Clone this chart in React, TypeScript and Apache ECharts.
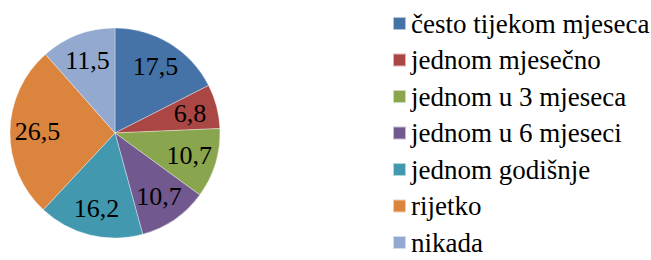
import React, { useEffect, useRef } from "react";
import * as echarts from "echarts";

const categories = [
  "često tijekom mjeseca",
  "jednom mjesečno",
  "jednom u 3 mjeseca",
  "jednom u 6 mjeseci",
  "jednom godišnje",
  "rijetko",
  "nikada",
];
const values = [17.5, 6.8, 10.7, 10.7, 16.2, 26.5, 11.5];
const colors = ["#4572A7", "#AA4643", "#89A54E", "#71588F", "#4198AF", "#DB843D", "#93A9CF"];

const FONT = "'Liberation Serif', 'Times New Roman', serif";

export default function App() {
  const ref = useRef<HTMLDivElement>(null);
  useEffect(() => {
    if (!ref.current) return;
    const chart = echarts.init(ref.current, undefined, { renderer: "svg" });
    const data = categories.map((name, i) => ({
      name,
      value: values[i],
      itemStyle: { color: colors[i] },
    }));
    chart.setOption({
      animation: false,
      textStyle: { fontFamily: FONT },
      legend: {
        orient: "vertical",
        left: 392,
        top: 10,
        height: 250,
        padding: 0,
        itemWidth: 13,
        itemHeight: 13,
        itemGap: 9.5,
        icon: "rect",
        data: categories,
        textStyle: {
          fontFamily: FONT,
          fontSize: 27,
          lineHeight: 27,
          color: "#000",
        },
      },
      series: [
        {
          type: "pie",
          center: [115, 133],
          radius: [0, 105],
          startAngle: 90,
          clockwise: true,
          silent: true,
          data,
          label: { show: false },
          labelLine: { show: false },
          itemStyle: { borderColor: "rgba(255,255,255,0.6)", borderWidth: 0.6 },
        },
        {
          type: "pie",
          center: [115, 133],
          radius: [44, 105],
          startAngle: 90,
          clockwise: true,
          silent: true,
          legendHoverLink: false,
          data: categories.map((name, i) => ({
            name: name + " ",
            value: values[i],
          })),
          itemStyle: { color: "rgba(0,0,0,0)" },
          label: {
            show: true,
            position: "inside",
            formatter: (p: any) => String(p.value).replace(".", ","),
            fontFamily: FONT,
            fontSize: 26,
            color: "#000",
          },
          labelLine: { show: false },
        },
      ],
    });
    return () => chart.dispose();
  }, []);
  return (
    <div
      ref={ref}
      style={{ position: "fixed", left: 0, top: 0, width: 651, height: 260, background: "#fff" }}
    />
  );
}
